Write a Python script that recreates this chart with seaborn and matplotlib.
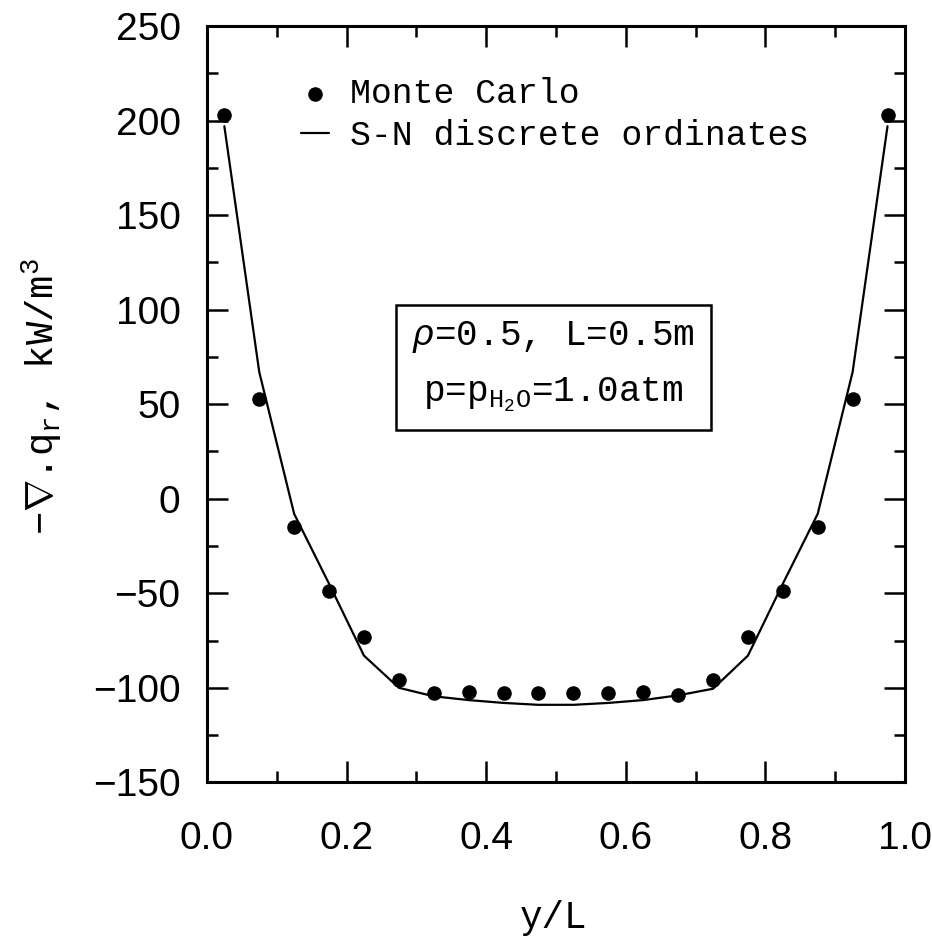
import numpy as np
import pandas as pd
import matplotlib
matplotlib.use("Agg")
import matplotlib.pyplot as plt
import seaborn as sns
from matplotlib.ticker import MultipleLocator

sns.set_style("ticks")
plt.rcParams["font.family"] = ["Liberation Mono", "DejaVu Sans Mono"]
plt.rcParams["mathtext.fontset"] = "custom"
plt.rcParams["mathtext.rm"] = "Liberation Mono"
plt.rcParams["mathtext.it"] = "Liberation Mono:italic"
for k in ["text.color", "axes.labelcolor", "xtick.color", "ytick.color", "axes.edgecolor"]:
    plt.rcParams[k] = "black"

# Monte Carlo points
mc_x = [0.025, 0.075, 0.125, 0.175, 0.225, 0.275, 0.325, 0.375, 0.425, 0.475,
        0.525, 0.575, 0.625, 0.675, 0.725, 0.775, 0.825, 0.875, 0.925, 0.975]
mc_y = [203, 53, -15, -49, -73, -96, -103, -102, -102.5, -103,
        -103, -102.5, -102, -104, -96, -73, -49, -15, 53, 203]

# S-N discrete ordinates
sn_x = [0.025, 0.075, 0.125, 0.175, 0.225, 0.275, 0.325, 0.375, 0.425, 0.475,
        0.525, 0.575, 0.625, 0.675, 0.725, 0.775, 0.825, 0.875, 0.925, 0.975]
sn_y = [197, 67, -8, -45, -83, -100, -104.5, -106.5, -108, -109,
        -109, -108, -106.5, -104, -100.5, -83, -45, -8, 67, 197]

xticks = [0, 0.2, 0.4, 0.6, 0.8, 1.0]
xticklabels = ["0.0", "0.2", "0.4", "0.6", "0.8", "1.0"]
yticks = [-150, -100, -50, 0, 50, 100, 150, 200, 250]
yticklabels = ["\u2212150", "\u2212100", "\u221250", "0", "50", "100", "150", "200", "250"]

df_mc = pd.DataFrame({"x": mc_x, "y": mc_y})
df_sn = pd.DataFrame({"x": sn_x, "y": sn_y})

fig = plt.figure(figsize=(9.32, 9.46), dpi=100)
ax = fig.add_axes([0.222, 0.173, 0.749, 0.7995])

sns.lineplot(data=df_sn, x="x", y="y", ax=ax, color="black", linewidth=1.6,
             label="S-N discrete ordinates", sort=False)
sns.scatterplot(data=df_mc, x="x", y="y", ax=ax, color="black", s=110,
                edgecolor="black", linewidth=0, label="Monte Carlo", zorder=3)

ax.set_xlim(0, 1)
ax.set_ylim(-150, 250)
ax.set_xticks(xticks)
ax.set_xticklabels(xticklabels, family="Liberation Sans", fontsize=28)
ax.set_yticks(yticks)
ax.set_yticklabels(yticklabels, family="Liberation Sans", fontsize=28)
ax.xaxis.set_minor_locator(MultipleLocator(0.1))
ax.yaxis.set_minor_locator(MultipleLocator(25))
ax.tick_params(which="both", direction="in", top=True, right=True, width=1.8)
ax.tick_params(which="major", length=15)
ax.tick_params(which="minor", length=8)
ax.tick_params(axis="x", which="major", pad=28)
ax.tick_params(axis="y", which="major", pad=19)

for sp in ax.spines.values():
    sp.set_linewidth(2.2)

ax.set_xlabel("y/L", fontsize=27)
ax.set_ylabel(r"$-\nabla$.q$_\mathregular{r}$, kW/m$^\mathregular{3}$", fontsize=28)
ax.xaxis.set_label_coords(0.496, -0.155)
ax.yaxis.set_label_coords(-0.205, 0.51)

handles, labels = ax.get_legend_handles_labels()
ax.legend(handles[::-1], labels[::-1], loc="upper left", bbox_to_anchor=(0.105, 0.96),
          frameon=False, fontsize=25, handlelength=0.8, handletextpad=0.6,
          labelspacing=0.25, borderaxespad=0.2)

ax.text(0.496, 0.55, "$\\rho$=0.5, L=0.5m\np=p$_{\\mathrm{H_2O}}$=1.0atm", transform=ax.transAxes,
        ha="center", va="center", fontsize=26, linespacing=1.75,
        bbox=dict(boxstyle="square,pad=0.45", facecolor="white", edgecolor="black", linewidth=1.8))

fig.savefig("out.png", dpi=100)
